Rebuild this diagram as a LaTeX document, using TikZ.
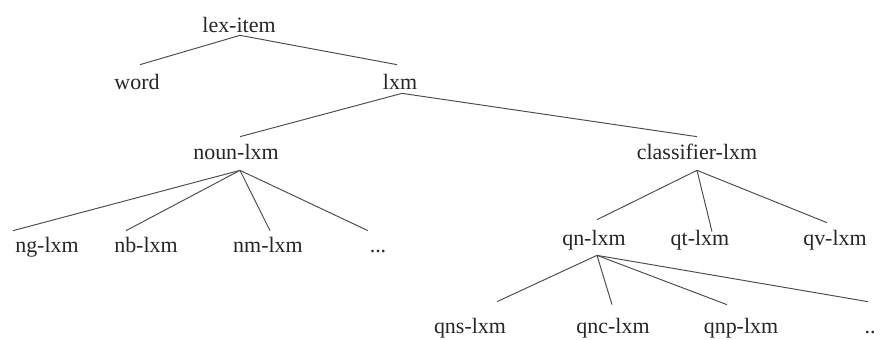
\documentclass[tikz,border=0pt]{standalone}
\usepackage{fontspec}
\setmainfont{Liberation Serif}
\usepackage{tikz}
\usetikzlibrary{calc}

\begin{document}
\begin{tikzpicture}[x=0.02cm,y=-0.02cm,thin]

			\tikzstyle{every node}=[font=\fontsize{12.5}{14}\selectfont,text=black!85,anchor=base,text height=0.3cm,text depth=0pt,inner xsep=0pt,inner ysep=0.14cm]
			\tikzstyle{branch}=[draw=black!70,line width=0.55pt]

			\useasboundingbox (0,0) rectangle (880,339);

			\node (lex) at (239,32) {lex-item};
			\node (word) at (137,89) {word};
			\node (lxm) at (400,89) {lxm};
			\node (noun) at (236,159) {noun-lxm};
			\node (cls) at (697,159) {classifier-lxm};
			\node (ng) at (47,252) {ng-lxm};
			\node (nb) at (146,252) {nb-lxm};
			\node (nm) at (268,252) {nm-lxm};
			\node (ndots) at (378,252) {...};
			\node (qn) at (594,245) {qn-lxm};
			\node (qt) at (700,245) {qt-lxm};
			\node (qv) at (835,245) {qv-lxm};
			\node (qns) at (470,333) {qns-lxm};
			\node (qnc) at (613,333) {qnc-lxm};
			\node (qnp) at (741,333) {qnp-lxm};
			\node (qdots) at (870,333) {..};

			\draw[branch] ($(word.north)+(3,-2)$) -- ($(lex.south)+(1,-4)$) -- ($(lxm.north)+(-3,-2)$);
			\draw[branch] ($(noun.north)+(4,0)$) -- ($(lxm.south)+(2,-3)$) -- (cls.north);
			\draw[branch] ($(noun.south)+(4,4)$) -- ($(ng.north)+(-34,1)$);
			\draw[branch] ($(noun.south)+(4,4)$) -- ($(nb.north)+(-20,1)$);
			\draw[branch] ($(noun.south)+(4,4)$) -- ($(nm.north)+(2,1)$);
			\draw[branch] ($(noun.south)+(4,4)$) -- ($(ndots.north)+(-10,1)$);
			\draw[branch] ($(cls.south)+(0,4)$) -- ($(qn.north)+(3,-3)$);
			\draw[branch] ($(cls.south)+(0,4)$) -- ($(qt.north)+(12,9)$);
			\draw[branch] ($(cls.south)+(0,4)$) -- ($(qv.north)+(-8,0)$);
			\draw[branch] ($(qn.south)+(3,3)$) -- ($(qns.north)+(27,-9)$);
			\draw[branch] ($(qn.south)+(3,3)$) -- ($(qnc.north)+(-1,-6)$);
			\draw[branch] ($(qn.south)+(3,3)$) -- ($(qnp.north)+(-14,-6)$);
			\draw[branch] ($(qn.south)+(3,3)$) -- ($(qdots.north)+(-2,-9)$);
			\end{tikzpicture}
\end{document}
